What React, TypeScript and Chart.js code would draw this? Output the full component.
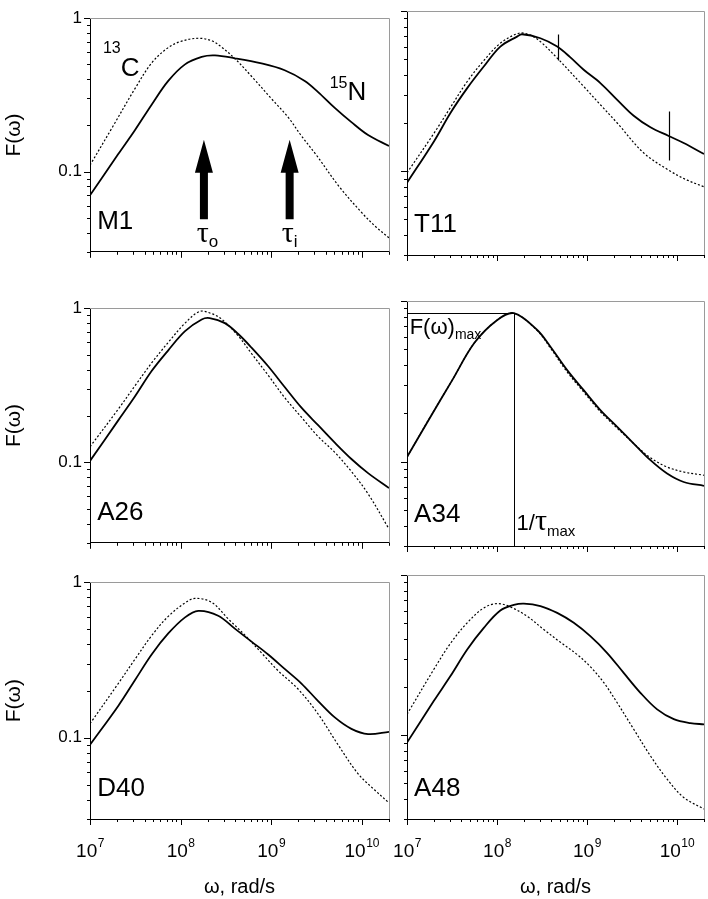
import React, { useEffect, useRef } from 'react';
import { Chart, registerables } from 'chart.js';

Chart.register(...registerables);

const SANS = '"Liberation Sans", Arial, Helvetica, sans-serif';
const SERIF = '"Liberation Serif", "Times New Roman", serif';

// ---- axes ----
const X_MIN = 1e7;
const X_MAX = 2e10;
const Y_MIN = 0.03;
const Y_MAX = 1;
const xMajorTicks = [1e7, 1e8, 1e9, 1e10];
const xExponents = ['7', '8', '9', '10'];
const xMinorTicks = [
  2e7, 3e7, 4e7, 5e7, 6e7, 7e7, 8e7, 9e7,
  2e8, 3e8, 4e8, 5e8, 6e8, 7e8, 8e8, 9e8,
  2e9, 3e9, 4e9, 5e9, 6e9, 7e9, 8e9, 9e9,
  2e10,
];
const yMajorTicks = [0.1, 1];
const yTickLabels = ['0.1', '1'];
const yMinorTicks = [0.03, 0.04, 0.05, 0.06, 0.07, 0.08, 0.09, 0.2, 0.3, 0.4, 0.5, 0.6, 0.7, 0.8, 0.9];

// ---- M1 ----
const m1Omega13C = [1e7, 1.78e7, 3.16e7, 4.79e7, 7.08e7, 1e8, 1.58e8, 2.24e8, 2.82e8, 3.98e8, 6.03e8, 1e9, 1.55e9, 2.14e9, 3.16e9, 5.62e9, 1e10, 1.41e10, 2e10];
const m1F13C = [0.11, 0.196, 0.35, 0.51, 0.635, 0.705, 0.74, 0.71, 0.65, 0.545, 0.42, 0.3, 0.225, 0.172, 0.128, 0.08, 0.054, 0.044, 0.037];
const m1Omega15N = [1e7, 2.05e7, 3.13e7, 4.79e7, 7.31e7, 1.12e8, 1.71e8, 2.4e8, 3.97e8, 7.82e8, 1.41e9, 2.35e9, 3.3e9, 5.04e9, 7.69e9, 1.175e10, 2e10];
const m1F15N = [0.07, 0.13, 0.186, 0.273, 0.39, 0.5, 0.56, 0.572, 0.548, 0.507, 0.458, 0.39, 0.33, 0.26, 0.21, 0.173, 0.147];

// ---- T11 ----
const t11Omega13C = [1e7, 2e7, 3.04e7, 4.67e7, 7.13e7, 1.09e8, 1.75e8, 2.3e8, 3.04e8, 4.67e8, 9.2e8, 1.41e9, 2.17e9, 4.28e9, 8.47e9, 1.3e10, 2e10];
const t11F13C = [0.0977, 0.173, 0.25, 0.363, 0.49, 0.629, 0.726, 0.71, 0.644, 0.508, 0.338, 0.26, 0.2, 0.13, 0.1, 0.088, 0.08];
const t11Omega15N = [1e7, 2e7, 3.04e7, 4.67e7, 7.13e7, 1.09e8, 1.67e8, 1.9e8, 3.04e8, 4.67e8, 6.5e8, 9.2e8, 1.41e9, 2.17e9, 3.31e9, 5.08e9, 8.1e9, 1.19e10, 2e10];
const t11F15N = [0.0847, 0.154, 0.231, 0.33, 0.45, 0.6, 0.692, 0.716, 0.676, 0.6, 0.515, 0.43, 0.355, 0.279, 0.222, 0.188, 0.166, 0.15, 0.128];

// ---- A26 ----
const a26Omega13C = [1e7, 2.05e7, 3.13e7, 4.79e7, 7.31e7, 1.12e8, 1.63e8, 2.2e8, 2.83e8, 4.33e8, 6.07e8, 9.27e8, 1.41e9, 2.16e9, 3.3e9, 5.04e9, 7.69e9, 1.175e10, 2e10];
const a26F13C = [0.126, 0.221, 0.313, 0.441, 0.6, 0.8, 0.953, 0.922, 0.851, 0.661, 0.508, 0.367, 0.263, 0.196, 0.147, 0.116, 0.0871, 0.0624, 0.0369];
const a26Omega15N = [1e7, 2.05e7, 3.13e7, 4.79e7, 7.31e7, 1.12e8, 1.71e8, 2.1e8, 3.08e8, 4.33e8, 6.07e8, 9.27e8, 1.41e9, 2.16e9, 3.3e9, 5.04e9, 7.69e9, 1.175e10, 2e10];
const a26F15N = [0.102, 0.187, 0.267, 0.391, 0.533, 0.709, 0.845, 0.862, 0.8, 0.68, 0.555, 0.42, 0.308, 0.226, 0.174, 0.134, 0.105, 0.085, 0.068];

// ---- A34 ----
const a34Omega = [1e7, 1.78e7, 3.16e7, 5.62e7, 1e8, 1.54e8, 2.8e8, 3.93e8, 6.03e8, 9.2e8, 1.41e9, 2.17e9, 3.31e9, 5.08e9, 7.78e9, 1.19e10, 2e10];
const a34F13C = [0.107, 0.187, 0.32, 0.55, 0.76, 0.84, 0.655, 0.51, 0.362, 0.272, 0.205, 0.162, 0.13, 0.106, 0.093, 0.0865, 0.0826];
const a34F15N = [0.107, 0.186, 0.32, 0.55, 0.76, 0.84, 0.66, 0.52, 0.372, 0.279, 0.21, 0.165, 0.13, 0.1025, 0.0847, 0.075, 0.071];

// ---- D40 ----
const d40Omega13C = [1e7, 2.05e7, 3.13e7, 4.79e7, 7.31e7, 1.12e8, 1.44e8, 2.2e8, 3.36e8, 5.13e8, 7.82e8, 1.19e9, 1.99e9, 3.3e9, 5.48e9, 9.12e9, 1.39e10, 2e10];
const d40F13C = [0.123, 0.223, 0.319, 0.453, 0.603, 0.736, 0.787, 0.743, 0.58, 0.457, 0.351, 0.27, 0.205, 0.142, 0.09, 0.0586, 0.0461, 0.0381];
const d40Omega15N = [1e7, 2.05e7, 3.13e7, 4.79e7, 7.31e7, 1.12e8, 1.57e8, 2.6e8, 3.97e8, 6.07e8, 9.27e8, 1.41e9, 2.16e9, 3.3e9, 5.04e9, 7.69e9, 1.175e10, 2e10];
const d40F15N = [0.09, 0.16, 0.234, 0.343, 0.468, 0.594, 0.654, 0.609, 0.503, 0.415, 0.343, 0.277, 0.223, 0.172, 0.135, 0.114, 0.1054, 0.109];

// ---- A48 ----
const a48Omega13C = [1e7, 1.99e7, 3.04e7, 4.67e7, 7.14e7, 1e8, 1.41e8, 2.16e8, 3.31e8, 5.08e8, 7.78e8, 1.09e9, 1.54e9, 2.16e9, 3.31e9, 5.08e9, 7.78e9, 1.19e10, 2e10];
const a48F13C = [0.135, 0.258, 0.374, 0.503, 0.623, 0.663, 0.632, 0.553, 0.457, 0.38, 0.319, 0.268, 0.213, 0.16, 0.109, 0.0743, 0.0532, 0.0409, 0.0346];
const a48Omega15N = [1e7, 1.99e7, 3.04e7, 4.67e7, 7.14e7, 1.09e8, 1.54e8, 1.99e8, 3.04e8, 4.67e8, 7.14e8, 1.09e9, 1.67e9, 2.56e9, 3.93e9, 6.03e9, 9.23e9, 1.41e10, 2e10];
const a48F15N = [0.09, 0.164, 0.234, 0.343, 0.468, 0.6, 0.65, 0.663, 0.64, 0.58, 0.503, 0.415, 0.327, 0.245, 0.184, 0.145, 0.126, 0.119, 0.117];

// ---- annotation anchors (data coordinates) ----
const nameOmega = 1.2e7;
const nameF = 0.042;
const arrowOmegas = [1.81e8, 1.6e9];
const arrowFromF = 0.0489;
const arrowToF = 0.161;

type Part = { t: string; size: number; dy?: number; serif?: boolean };
type TextAnn = { w: number; f: number; parts: Part[] };
type Seg = { w1: number; f1: number; w2: number; f2: number; width: number };
type PanelDef = {
  name: string;
  left: number; top: number; width: number; height: number;
  yAxisWidth: number; xAxisHeight: number; padTop: number; padRight: number;
  yLabels: boolean; xLabels: boolean;
  w13: number[]; f13: number[]; w15: number[]; f15: number[];
  texts?: TextAnn[]; segs?: Seg[]; arrows?: boolean;
};

const LEFT = { left: 0, width: 396, yAxisWidth: 90, padRight: 7, yLabels: true };
const RIGHT = { left: 392, width: 316, yAxisWidth: 15, padRight: 4, yLabels: false };
const ROW1 = { top: 0, height: 270, padTop: 11, xAxisHeight: 15, xLabels: false };
const ROW2 = { top: 290, height: 271, padTop: 11, xAxisHeight: 15, xLabels: false };
const ROW3 = { top: 564, height: 335, padTop: 11, xAxisHeight: 80, xLabels: true };

const panels: PanelDef[] = [
  {
    name: 'M1', ...LEFT, ...ROW1, w13: m1Omega13C, f13: m1F13C, w15: m1Omega15N, f15: m1F15N,
    arrows: true,
    texts: [
      { w: 1.39e7, f: 0.423, parts: [{ t: '13', size: 16, dy: -23 }, { t: 'C', size: 26 }] },
      { w: 4.43e9, f: 0.292, parts: [{ t: '15', size: 16, dy: -12 }, { t: 'N', size: 26 }] },
      { w: 1.51e8, f: 0.035, parts: [{ t: 'τ', size: 30, serif: true }, { t: 'o', size: 17, dy: 5 }] },
      { w: 1.31e9, f: 0.035, parts: [{ t: 'τ', size: 30, serif: true }, { t: 'i', size: 17, dy: 5 }] },
    ],
  },
  {
    name: 'T11', ...RIGHT, ...ROW1, w13: t11Omega13C, f13: t11F13C, w15: t11Omega15N, f15: t11F15N,
    segs: [
      { w1: 4.74e8, f1: 0.495, w2: 4.74e8, f2: 0.72, width: 1.2 },
      { w1: 8.1e9, f1: 0.118, w2: 8.1e9, f2: 0.236, width: 1.2 },
    ],
  },
  { name: 'A26', ...LEFT, ...ROW2, w13: a26Omega13C, f13: a26F13C, w15: a26Omega15N, f15: a26F15N },
  {
    name: 'A34', ...RIGHT, ...ROW2, w13: a34Omega, f13: a34F13C, w15: a34Omega, f15: a34F15N,
    segs: [
      { w1: 1e7, f1: 0.84, w2: 1.54e8, f2: 0.84, width: 1 },
      { w1: 1.54e8, f1: 0.03, w2: 1.54e8, f2: 0.84, width: 1 },
    ],
    texts: [
      { w: 1.07e7, f: 0.623, parts: [{ t: 'F(ω)', size: 22 }, { t: 'max', size: 14, dy: 5 }] },
      { w: 1.65e8, f: 0.0376, parts: [{ t: '1/', size: 22 }, { t: 'τ', size: 30, serif: true }, { t: 'max', size: 15, dy: 6 }] },
    ],
  },
  { name: 'D40', ...LEFT, ...ROW3, w13: d40Omega13C, f13: d40F13C, w15: d40Omega15N, f15: d40F15N },
  { name: 'A48', ...RIGHT, ...ROW3, w13: a48Omega13C, f13: a48F13C, w15: a48Omega15N, f15: a48F15N },
];

function drawRich(ctx: CanvasRenderingContext2D, x: number, y: number, parts: Part[]) {
  let cx = x;
  for (const p of parts) {
    ctx.font = `${p.size}px ${p.serif ? SERIF : SANS}`;
    ctx.fillText(p.t, cx, y + (p.dy || 0));
    cx += ctx.measureText(p.t).width;
  }
}

function makeDecor(panel: PanelDef) {
  return {
    id: 'decor_' + panel.name,
    afterDraw(chart: any) {
      const ctx: CanvasRenderingContext2D = chart.ctx;
      const area = chart.chartArea;
      const xs = chart.scales.x;
      const ys = chart.scales.y;
      ctx.save();
      // grey frame top/right
      const tY = Math.round(area.top) + 0.5;
      const rX = Math.round(area.right) + 0.5;
      ctx.strokeStyle = '#9a9a9a';
      ctx.lineWidth = 1;
      ctx.beginPath();
      ctx.moveTo(area.left, tY);
      ctx.lineTo(rX, tY);
      ctx.lineTo(rX, area.bottom);
      ctx.stroke();
      // ticks
      ctx.strokeStyle = '#000';
      ctx.lineWidth = 1;
      const b = area.bottom;
      const l = area.left;
      ctx.beginPath();
      xMajorTicks.forEach((v) => {
        const px = Math.round(xs.getPixelForValue(v)) + 0.5;
        ctx.moveTo(px, b); ctx.lineTo(px, b + 6);
      });
      xMinorTicks.forEach((v) => {
        const px = Math.round(xs.getPixelForValue(v)) + 0.5;
        ctx.moveTo(px, b); ctx.lineTo(px, b + 3);
      });
      yMajorTicks.forEach((v) => {
        const py = Math.round(ys.getPixelForValue(v)) + 0.5;
        ctx.moveTo(l, py); ctx.lineTo(l - 6, py);
      });
      yMinorTicks.forEach((v) => {
        const py = Math.round(ys.getPixelForValue(v)) + 0.5;
        ctx.moveTo(l, py); ctx.lineTo(l - 3, py);
      });
      ctx.stroke();
      ctx.fillStyle = '#000';
      ctx.textAlign = 'left';
      ctx.textBaseline = 'alphabetic';
      // x tick labels 10^n
      if (panel.xLabels) {
        xMajorTicks.forEach((v, i) => {
          const px = xs.getPixelForValue(v);
          ctx.font = `19px ${SANS}`;
          const w1 = ctx.measureText('10').width;
          ctx.font = `12px ${SANS}`;
          const w2 = ctx.measureText(xExponents[i]).width;
          const start = px - (w1 + w2) / 2;
          const base = b + 38;
          ctx.font = `19px ${SANS}`;
          ctx.fillText('10', start, base);
          ctx.font = `12px ${SANS}`;
          ctx.fillText(xExponents[i], start + w1 + 0.5, base - 10);
        });
      }
      // panel name
      drawRich(ctx, xs.getPixelForValue(nameOmega), ys.getPixelForValue(nameF), [{ t: panel.name, size: 26 }]);
      // texts
      (panel.texts || []).forEach((t) => {
        drawRich(ctx, xs.getPixelForValue(t.w), ys.getPixelForValue(t.f), t.parts);
      });
      // segments
      (panel.segs || []).forEach((s) => {
        ctx.lineWidth = s.width;
        ctx.beginPath();
        const x1 = Math.round(xs.getPixelForValue(s.w1)) + 0.5;
        const x2 = Math.round(xs.getPixelForValue(s.w2)) + 0.5;
        const y1 = Math.round(ys.getPixelForValue(s.f1)) + 0.5;
        const y2 = Math.round(ys.getPixelForValue(s.f2)) + 0.5;
        ctx.moveTo(x1, y1); ctx.lineTo(x2, y2);
        ctx.stroke();
      });
      // arrows
      if (panel.arrows) {
        arrowOmegas.forEach((w) => {
          const cx = xs.getPixelForValue(w);
          const yb = ys.getPixelForValue(arrowFromF);
          const yt = ys.getPixelForValue(arrowToF);
          const headLen = 33, headW = 18, shaftW = 8;
          ctx.beginPath();
          ctx.moveTo(cx - shaftW / 2, yb);
          ctx.lineTo(cx - shaftW / 2, yt + headLen);
          ctx.lineTo(cx - headW / 2, yt + headLen);
          ctx.lineTo(cx, yt);
          ctx.lineTo(cx + headW / 2, yt + headLen);
          ctx.lineTo(cx + shaftW / 2, yt + headLen);
          ctx.lineTo(cx + shaftW / 2, yb);
          ctx.closePath();
          ctx.fill();
        });
      }
      ctx.restore();
    },
  };
}

function PanelChart({ panel }: { panel: PanelDef }) {
  const ref = useRef<HTMLCanvasElement | null>(null);
  useEffect(() => {
    if (!ref.current) return;
    const chart = new Chart(ref.current, {
      type: 'line',
      data: {
        datasets: [
          {
            label: '13C',
            data: panel.w13.map((w, i) => ({ x: w, y: panel.f13[i] })),
            borderColor: '#000',
            borderWidth: 1.2,
            borderDash: [2, 2],
            pointRadius: 0,
            tension: 0.35,
            fill: false,
          },
          {
            label: '15N',
            data: panel.w15.map((w, i) => ({ x: w, y: panel.f15[i] })),
            borderColor: '#000',
            borderWidth: 1.8,
            pointRadius: 0,
            tension: 0.35,
            fill: false,
          },
        ],
      },
      options: {
        responsive: false,
        animation: false,
        devicePixelRatio: 1,
        events: [],
        layout: { padding: { top: panel.padTop, right: panel.padRight, left: 0, bottom: 0 } },
        plugins: { legend: { display: false }, tooltip: { enabled: false }, title: { display: false } },
        scales: {
          x: {
            type: 'logarithmic',
            position: 'bottom',
            min: X_MIN,
            max: X_MAX,
            grid: { display: false, drawTicks: false },
            border: { display: true, color: '#000', width: 1 },
            ticks: { display: false },
            afterBuildTicks: (s: any) => { s.ticks = xMajorTicks.map((v) => ({ value: v })); },
            afterFit: (s: any) => { s.height = panel.xAxisHeight; },
            title: {
              display: panel.xLabels,
              text: 'ω, rad/s',
              color: '#000',
              font: { family: SANS, size: 20 },
              padding: { top: 0, bottom: 0 },
            },
          },
          y: {
            type: 'logarithmic',
            position: 'left',
            min: Y_MIN,
            max: Y_MAX,
            grid: { display: false, drawTicks: false },
            border: { display: true, color: '#000', width: 1 },
            ticks: {
              display: panel.yLabels,
              autoSkip: false,
              padding: 8,
              color: '#000',
              font: { family: SANS, size: 17 },
              callback: (v: any) => {
                const i = yMajorTicks.indexOf(Number(v));
                return i >= 0 ? yTickLabels[i] : '';
              },
            },
            afterBuildTicks: (s: any) => { s.ticks = yMajorTicks.map((v) => ({ value: v })); },
            afterFit: (s: any) => { s.width = panel.yAxisWidth; },
            title: {
              display: panel.yLabels,
              text: 'F(ω)',
              color: '#000',
              font: { family: SANS, size: 21 },
              padding: { top: 2, bottom: 0 },
            },
          },
        },
      } as any,
      plugins: [makeDecor(panel)],
    });
    return () => chart.destroy();
  }, [panel]);
  return (
    <div style={{ position: 'absolute', left: panel.left, top: panel.top, width: panel.width, height: panel.height }}>
      <canvas ref={ref} width={panel.width} height={panel.height} style={{ display: 'block', width: panel.width, height: panel.height }} />
    </div>
  );
}

export default function App() {
  return (
    <div style={{ position: 'absolute', left: 0, top: 0, width: 708, height: 899, background: '#fff', overflow: 'hidden' }}>
      {panels.map((p) => (
        <PanelChart key={p.name} panel={p} />
      ))}
    </div>
  );
}
